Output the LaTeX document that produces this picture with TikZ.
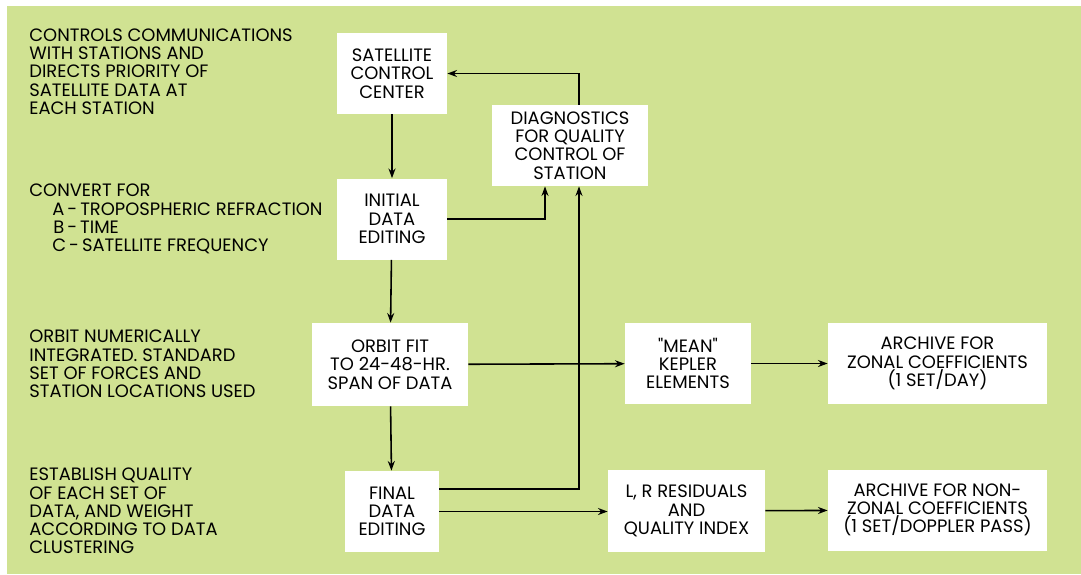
\documentclass[tikz,border=0pt]{standalone}
\usepackage{fontspec}
\setmainfont{Poppins}
\newfontfamily\plainquote{Poppins}[Ligatures=ResetAll]
\usetikzlibrary{arrows.meta}
\definecolor{bggreen}{RGB}{208,226,146}
\tikzset{
    box/.style = {rectangle, fill=white, minimum height=1.62cm, text centered, align=center, inner sep=2pt, font=\fontsize{10.2}{10.4}\selectfont},
    note/.style = {anchor=west, align=left, inner sep=0pt, font=\fontsize{10.2}{10.4}\selectfont},
    arrow/.style = {line width=0.9pt, -{Stealth[length=5.5pt, width=4pt]}}
}

\begin{document}
\begin{tikzpicture}
    \useasboundingbox (0, 0) rectangle (21.62, -11.48);
    \fill [bggreen] (0.14, -0.12) rectangle (21.62, -11.48);

    \node (notescc) [note] at (0.58, -1.43) {CONTROLS COMMUNICATIONS\\WITH STATIONS AND\\DIRECTS PRIORITY OF\\SATELLITE DATA AT\\EACH STATION};
    \node (noteinit) [note] at (0.58, -4.38) {CONVERT FOR\\\hspace*{0.46cm}A\,-\,TROPOSPHERIC REFRACTION\\\hspace*{0.48cm}B\,-\,TIME\\\hspace*{0.46cm}C\,-\,SATELLITE FREQUENCY};
    \node (noteorbit) [note] at (0.58, -7.28) {ORBIT NUMERICALLY\\INTEGRATED. STANDARD\\SET OF FORCES AND\\STATION LOCATIONS USED};
    \node (notefinal) [note] at (0.58, -10.22) {ESTABLISH QUALITY\\OF EACH SET OF\\DATA, AND WEIGHT\\ACCORDING TO DATA\\CLUSTERING};

    \node (scc) [box, minimum width=2.2cm] at (7.84, -1.47) {SATELLITE\\CONTROL\\CENTER};
    \node (initial) [box, minimum width=2.2cm] at (7.84, -4.38) {INITIAL\\DATA\\EDITING};
    \node (diag) [box, minimum width=3.12cm] at (11.40, -2.91) {DIAGNOSTICS\\FOR QUALITY\\CONTROL OF\\STATION};
    \node (orbit) [box, minimum width=3.12cm, minimum height=1.66cm] at (7.80, -7.29) {ORBIT FIT\\TO 24-48-HR.\\SPAN OF DATA};
    \node (final) [box, minimum width=1.88cm] at (7.84, -10.23) {FINAL\\DATA\\EDITING};

    \node (kepler) [box, minimum width=2.52cm] at (13.76, -7.27) {{\plainquote"}MEAN{\plainquote"}\\KEPLER\\ELEMENTS};
    \node (zonal) [box, minimum width=4.38cm] at (18.75, -7.27) {ARCHIVE FOR\\ZONAL COEFFICIENTS\\(1 SET/DAY)};
    \node (resid) [box, minimum width=3.14cm, minimum height=1.64cm] at (13.73, -10.22) {L, R RESIDUALS\\AND\\QUALITY INDEX};
    \node (nonzonal) [box, minimum width=4.38cm] at (18.75, -10.20) {ARCHIVE FOR NON-\\ZONAL COEFFICIENTS\\(1 SET/DOPPLER PASS)};

    \draw [arrow] (scc) -- (initial);
    \draw [arrow] (initial) -- (orbit);
    \draw [arrow] (orbit) -- (final);

    \draw [arrow] (initial.east) -| ([xshift=-0.5cm]diag.south);
    \draw [arrow] ([xshift=0.18cm]diag.north) |- (scc.east);
    \draw [arrow] ([yshift=0.45cm]final.east) -| ([xshift=0.18cm]diag.south);

    \draw [arrow] (orbit) -- (kepler);
    \draw [arrow] (kepler) -- (zonal);
    \draw [arrow] (final.east) -- (resid.west |- final.east);
    \draw [arrow] (resid) -- (nonzonal);
\end{tikzpicture}
\end{document}
